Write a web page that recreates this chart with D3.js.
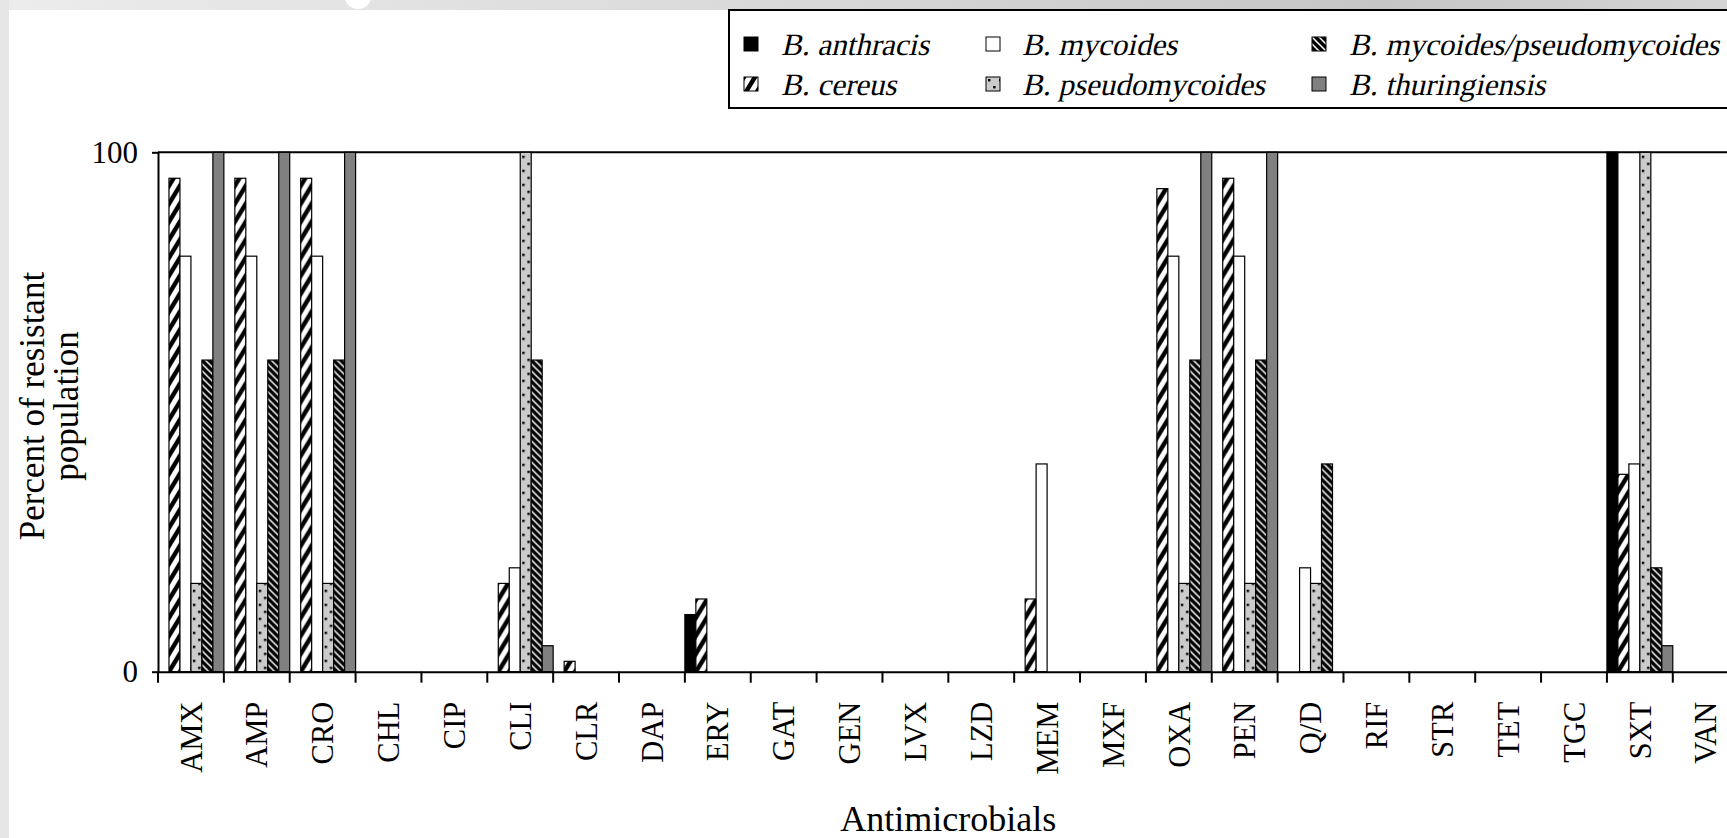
<!DOCTYPE html>
<html><head><meta charset="utf-8">
<script src="https://cdn.jsdelivr.net/npm/d3@7"></script>
<style>
html,body{margin:0;padding:0;background:#fff;overflow:hidden}
text{font-family:"Liberation Serif","Times New Roman",serif;fill:#000}
</style>
</head><body>
<svg id="chart" width="1727" height="838"></svg>
<script>
// ---------- data ----------
const categories = ["AMX","AMP","CRO","CHL","CIP","CLI","CLR","DAP","ERY","GAT","GEN","LVX","LZD","MEM","MXF","OXA","PEN","Q/D","RIF","STR","TET","TGC","SXT","VAN"];
const seriesNames = ["B. anthracis","B. cereus","B. mycoides","B. pseudomycoides","B. mycoides/pseudomycoides","B. thuringiensis"];
const anthracis      = [0,0,0,0,0,0,0,0,11,0,0,0,0,0,0,0,0,0,0,0,0,0,100,0];
const cereus         = [95,95,95,0,0,17,2,0,14,0,0,0,0,14,0,93,95,0,0,0,0,0,38,0];
const mycoides       = [80,80,80,0,0,20,0,0,0,0,0,0,0,40,0,80,80,20,0,0,0,0,40,0];
const pseudomycoides = [17,17,17,0,0,100,0,0,0,0,0,0,0,0,0,17,17,17,0,0,0,0,100,0];
const mycPseudo      = [60,60,60,0,0,60,0,0,0,0,0,0,0,0,0,60,60,40,0,0,0,0,20,0];
const thuringiensis  = [100,100,100,0,0,5,0,0,0,0,0,0,0,0,0,100,100,0,0,0,0,0,5,0];
const yTickValues = [0,100];
const xTitle = "Antimicrobials";
const yTitleLines = ["Percent of resistant","population"];

const seriesValues = [anthracis, cereus, mycoides, pseudomycoides, mycPseudo, thuringiensis];

// ---------- setup ----------
const W = 1727, H = 838;
const svg = d3.select("#chart");
const defs = svg.append("defs");

// slide-like background bands
const g1 = defs.append("linearGradient").attr("id","topband").attr("x1","0").attr("x2","1").attr("y1","0").attr("y2","0");
g1.append("stop").attr("offset","0").attr("stop-color","#ececec");
g1.append("stop").attr("offset","0.45").attr("stop-color","#d9d9d9");
g1.append("stop").attr("offset","0.8").attr("stop-color","#c6c6c6");
g1.append("stop").attr("offset","1").attr("stop-color","#d4d4d4");
svg.append("rect").attr("width",W).attr("height",H).attr("fill","#fff");
svg.append("rect").attr("x",0).attr("y",0).attr("width",W).attr("height",10).attr("fill","url(#topband)");
svg.append("rect").attr("x",0).attr("y",0).attr("width",9).attr("height",H).attr("fill","#e6e6e6");
svg.append("ellipse").attr("cx",358).attr("cy",-3).attr("rx",13).attr("ry",12).attr("fill","#fff");

// patterns
const pc = defs.append("pattern").attr("id","pat-cereus").attr("patternUnits","userSpaceOnUse")
  .attr("width",11).attr("height",18);
pc.append("rect").attr("width",11).attr("height",18).attr("fill","#fff");
pc.append("path").attr("d",[[0,0],[11,0],[-11,0],[0,18],[0,-18]].map(([dx,dy])=>`M${dx},${18+dy}L${11+dx},${dy}`).join(""))
  .attr("stroke","#000").attr("stroke-width",4.5);

const pp = defs.append("pattern").attr("id","pat-pseudo").attr("patternUnits","userSpaceOnUse")
  .attr("width",11).attr("height",14);
pp.append("rect").attr("width",11).attr("height",14).attr("fill","#cbcbcb");
pp.append("rect").attr("x",2).attr("y",2).attr("width",2.4).attr("height",2.4).attr("fill","#000");
pp.append("rect").attr("x",7.2).attr("y",9).attr("width",2.4).attr("height",2.4).attr("fill","#000");

const pm = defs.append("pattern").attr("id","pat-mp").attr("patternUnits","userSpaceOnUse")
  .attr("width",7).attr("height",7);
pm.append("rect").attr("width",7).attr("height",7).attr("fill","#000");
pm.append("path").attr("d","M0,0L7,7M-3.5,3.5L3.5,10.5M3.5,-3.5L10.5,3.5")
  .attr("stroke","#fff").attr("stroke-width",1.5);

const fills = ["#000","url(#pat-cereus)","#fff","url(#pat-pseudo)","url(#pat-mp)","#808080"];

// ---------- scales ----------
const x = d3.scaleBand().domain(categories).range([158, 158 + 24*65.86]).padding(0);
const sx = d3.scaleBand().domain(d3.range(seriesNames.length)).range([0, x.bandwidth()]).padding(0);
const y = d3.scaleLinear().domain([0,100]).range([671.7,152.3]);

// top border
svg.append("line").attr("x1",x.range()[0]).attr("x2",x.range()[1]).attr("y1",y(100)).attr("y2",y(100))
  .attr("stroke","#000").attr("stroke-width",2);

// ---------- bars ----------
const barData = [];
categories.forEach((c,i)=>{
  seriesValues.forEach((arr,s)=>{ if(arr[i]>0) barData.push({c, s, v:arr[i]}); });
});
const bars = svg.append("g").selectAll("g").data(barData).join("g")
  .attr("transform", d=>`translate(${x(d.c)+sx(d.s)},${y(0)})`);
bars.append("rect")
  .attr("x",0).attr("y",d=>y(d.v)-y(0))
  .attr("width",sx.bandwidth()).attr("height",d=>y(0)-y(d.v))
  .attr("fill",d=>fills[d.s]).attr("stroke","#000").attr("stroke-width",1.2);

// ---------- axes ----------
const yAxis = svg.append("g").attr("transform",`translate(${x.range()[0]},0)`)
  .call(d3.axisLeft(y).tickValues(yTickValues).tickSize(6).tickSizeOuter(0).tickPadding(14).tickFormat(d3.format("d")));
yAxis.select(".domain").attr("stroke-width",2);
yAxis.selectAll(".tick line").attr("stroke-width",2);
yAxis.selectAll("text").attr("font-size",31).attr("font-family","Liberation Serif");

const xAxis = svg.append("g").attr("transform",`translate(0,${y(0)})`)
  .call(d3.axisBottom(x).tickSize(0).tickSizeOuter(0));
xAxis.select(".domain").attr("stroke-width",2);
xAxis.selectAll("text")
  .attr("transform","rotate(-90)").attr("x",-30).attr("y",0).attr("dy","0.35em")
  .style("text-anchor","end").attr("font-size",30.5).attr("font-family","Liberation Serif");
// category boundary ticks
const bounds = categories.map(c=>x(c)).concat([x.range()[1]]);
xAxis.append("g").selectAll("line").data(bounds).join("line")
  .attr("x1",d=>d).attr("x2",d=>d).attr("y1",0).attr("y2",11)
  .attr("stroke","#000").attr("stroke-width",2);

// ---------- titles ----------
svg.append("text").attr("x",(x.range()[0]+x.range()[1])/2).attr("y",831)
  .attr("text-anchor","middle").attr("font-size",36).text(xTitle);
const yt = svg.append("g").attr("transform",`translate(0,406) rotate(-90)`);
yt.selectAll("text").data(yTitleLines).join("text")
  .attr("x",0).attr("y",(d,i)=>44 + i*34)
  .attr("text-anchor","middle").attr("font-size",35).text(d=>d);

// ---------- legend ----------
const lg = svg.append("g");
lg.append("rect").attr("x",729).attr("y",10).attr("width",1020).attr("height",98)
  .attr("fill","#fff").attr("stroke","#000").attr("stroke-width",2);
const legendCols = [[0,1],[2,3],[4,5]];
const symX = [744, 986, 1312];
const txtX = [781, 1022, 1349];
const rowY = [44, 84];
legendCols.forEach((col,ci)=>{
  col.forEach((s,ri)=>{
    lg.append("g").attr("transform",`translate(${symX[ci]},${rowY[ri]-7})`)
      .append("rect").attr("width",14).attr("height",14).attr("fill",fills[s])
      .attr("stroke","#000").attr("stroke-width",1);
    lg.append("g").attr("transform",`translate(${txtX[ci]},${rowY[ri]+11})`)
      .append("text").attr("x",0).attr("y",0).attr("transform","skewX(-13)")
      .attr("font-size",31).attr("font-style","normal").text(seriesNames[s]);
  });
});
</script>
</body></html>
